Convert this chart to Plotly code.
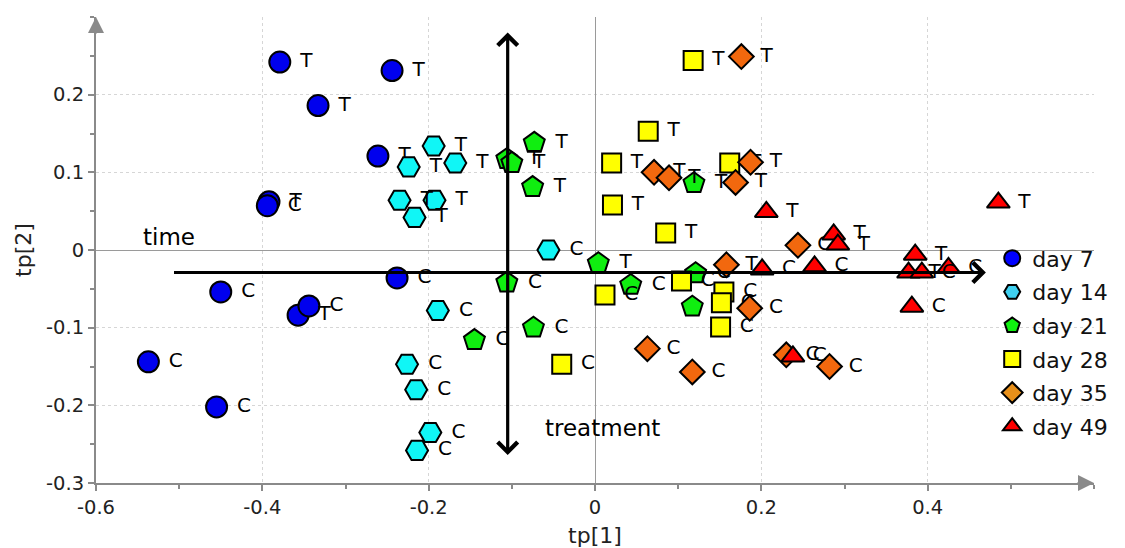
import plotly.graph_objects as go

# Score plot of tp[1] vs tp[2]; T = treatment, C = control
days = ["day 7", "day 14", "day 21", "day 28", "day 35", "day 49"]

day7_x = [-0.379, -0.244, -0.333, -0.261, -0.392, -0.357, -0.394, -0.238, -0.450, -0.344, -0.537, -0.455]
day7_y = [0.242, 0.231, 0.186, 0.121, 0.062, -0.084, 0.057, -0.036, -0.054, -0.072, -0.144, -0.202]
day7_lab = ["T", "T", "T", "T", "T", "T", "C", "C", "C", "C", "C", "C"]

day14_x = [-0.194, -0.224, -0.168, -0.235, -0.193, -0.217, -0.056, -0.189, -0.226, -0.215, -0.198, -0.214]
day14_y = [0.134, 0.107, 0.112, 0.064, 0.064, 0.042, 0.000, -0.078, -0.147, -0.180, -0.235, -0.258]
day14_lab = ["T", "T", "T", "T", "T", "T", "C", "C", "C", "C", "C", "C"]

day21_x = [-0.106, -0.100, -0.073, -0.075, 0.119, 0.004, -0.106, -0.074, -0.145, 0.043, 0.121, 0.117]
day21_y = [0.117, 0.112, 0.138, 0.081, 0.086, -0.017, -0.042, -0.100, -0.116, -0.045, -0.030, -0.073]
day21_lab = ["T", "T", "T", "T", "T", "T", "C", "C", "C", "C", "C", "C"]

day28_x = [0.118, 0.064, 0.020, 0.021, 0.085, 0.162, -0.040, 0.012, 0.104, 0.155, 0.152, 0.151]
day28_y = [0.244, 0.153, 0.112, 0.058, 0.022, 0.112, -0.147, -0.058, -0.040, -0.054, -0.068, -0.099]
day28_lab = ["T", "T", "T", "T", "T", "T", "C", "C", "C", "C", "C", "C"]

day35_x = [0.176, 0.071, 0.089, 0.169, 0.187, 0.158, 0.244, 0.063, 0.117, 0.186, 0.230, 0.282]
day35_y = [0.249, 0.100, 0.093, 0.087, 0.113, -0.019, 0.006, -0.127, -0.157, -0.075, -0.135, -0.150]
day35_lab = ["T", "T", "T", "T", "T", "T", "C", "C", "C", "C", "C", "C"]

day49_x = [0.485, 0.206, 0.287, 0.292, 0.385, 0.377, 0.393, 0.425, 0.201, 0.264, 0.381, 0.238]
day49_y = [0.061, 0.049, 0.020, 0.007, -0.006, -0.029, -0.029, -0.023, -0.025, -0.021, -0.073, -0.137]
day49_lab = ["T", "T", "T", "T", "T", "T", "C", "C", "C", "C", "C", "C"]

x_ticks = [-0.6, -0.4, -0.2, 0, 0.2, 0.4]
x_ticktext = ["-0.6", "-0.4", "-0.2", "0", "0.2", "0.4"]
y_ticks = [-0.3, -0.2, -0.1, 0, 0.1, 0.2]
y_ticktext = ["-0.3", "-0.2", "-0.1", "0", "0.1", "0.2"]

series = [
    (days[0], day7_x, day7_y, day7_lab, "circle", "#0000ee", "#0000ff", 21),
    (days[1], day14_x, day14_y, day14_lab, "hexagon2", "#10f6f6", "#3fd0f0", 22),
    (days[2], day21_x, day21_y, day21_lab, "pentagon", "#10ee10", "#10f010", 22),
    (days[3], day28_x, day28_y, day28_lab, "square", "#ffff00", "#ffff00", 19),
    (days[4], day35_x, day35_y, day35_lab, "diamond", "#f2680e", "#e8901a", 19),
    (days[5], day49_x, day49_y, day49_lab, "triangle-up", "#ff0000", "#ff0000", 20),
]

FONT = "DejaVu Sans"
GAP = "\u00a0"  # small gap between a marker and its T/C label
fig = go.Figure()

for name, xs, ys, labs, sym, col, legcol, size in series:
    fig.add_trace(go.Scatter(
        x=xs, y=ys, text=[GAP + s for s in labs], mode="markers+text",
        textposition="middle right",
        textfont=dict(family=FONT, size=20, color="#000000"),
        marker=dict(symbol=sym, size=size, color=col,
                    line=dict(color="#000000", width=2)),
        showlegend=False, cliponaxis=False, hoverinfo="x+y+text",
    ))

# legend entries
for name, xs, ys, labs, sym, col, legcol, size in series:
    fig.add_trace(go.Scatter(
        x=[None], y=[None], mode="markers", name=name, legendgroup=name,
        marker=dict(symbol=sym, size=size, color=legcol,
                    line=dict(color="#000000", width=2)),
    ))

annotations = [
    # time arrow
    dict(x=0.47, y=-0.029, ax=-0.508, ay=-0.029, xref="x", yref="y",
         axref="x", ayref="y", text="", showarrow=True, arrowhead=4,
         arrowsize=1.2, arrowwidth=3.2, arrowcolor="#000000", standoff=0),
    # treatment arrow (both ends)
    dict(x=-0.105, y=-0.264, ax=-0.105, ay=0.282, xref="x", yref="y",
         axref="x", ayref="y", text="", showarrow=True, arrowhead=4,
         startarrowhead=4, arrowside="end+start", arrowsize=1.2,
         startarrowsize=1.2, arrowwidth=3.2, arrowcolor="#000000",
         standoff=0, startstandoff=0),
    dict(x=-0.512, y=0.017, xref="x", yref="y", text="time", showarrow=False,
         font=dict(family=FONT, size=23, color="#000000")),
    dict(x=0.0095, y=-0.229, xref="x", yref="y", text="treatment", showarrow=False,
         font=dict(family=FONT, size=23, color="#000000")),
    # axis arrowheads
    dict(x=1.0, y=0, xref="paper", yref="paper", ax=-18, ay=0, text="",
         showarrow=True, arrowhead=2, arrowsize=1.6, arrowwidth=2,
         arrowcolor="#8a8a8a", standoff=0),
    dict(x=0, y=1.0, xref="paper", yref="paper", ax=0, ay=18, text="",
         showarrow=True, arrowhead=2, arrowsize=1.6, arrowwidth=2,
         arrowcolor="#8a8a8a", standoff=0),
]

fig.update_layout(
    width=1125, height=548,
    margin=dict(l=96, r=22, t=17, b=65),
    paper_bgcolor="#ffffff", plot_bgcolor="#ffffff",
    font=dict(family=FONT, size=19, color="#222222"),
    annotations=annotations,
    legend=dict(x=0.898, y=0.527, xanchor="left", yanchor="top",
                bgcolor="rgba(0,0,0,0)", font=dict(family=FONT, size=22, color="#111111"),
                tracegroupgap=2, itemwidth=30),
    showlegend=True,
)

fig.update_xaxes(
    range=[-0.6, 0.6], tickvals=x_ticks, ticktext=x_ticktext, automargin=False,
    showgrid=True, gridcolor="#d6d6d6", griddash="dot", gridwidth=1,
    zeroline=True, zerolinecolor="#9a9a9a", zerolinewidth=1,
    showline=True, linecolor="#8a8a8a", linewidth=2,
    ticks="outside", ticklen=6, tickcolor="#8a8a8a", tickwidth=1.5,
    minor=dict(dtick=0.1, tick0=0, ticks="outside", ticklen=4,
               tickcolor="#8a8a8a", showgrid=False),
    tickfont=dict(family=FONT, size=19.5, color="#222222"),
    title=dict(text="tp[1]", font=dict(family=FONT, size=22, color="#222222"), standoff=10),
)
fig.update_yaxes(
    range=[-0.3, 0.3], tickvals=y_ticks, ticktext=y_ticktext, automargin=False,
    showgrid=True, gridcolor="#d6d6d6", griddash="dot", gridwidth=1,
    zeroline=True, zerolinecolor="#9a9a9a", zerolinewidth=1,
    showline=True, linecolor="#8a8a8a", linewidth=2,
    ticks="outside", ticklen=6, tickcolor="#8a8a8a", tickwidth=1.5,
    minor=dict(dtick=0.05, tick0=0, ticks="outside", ticklen=4,
               tickcolor="#8a8a8a", showgrid=False),
    tickfont=dict(family=FONT, size=19.5, color="#222222"),
    title=dict(text="tp[2]", font=dict(family=FONT, size=22, color="#222222"), standoff=8),
)

fig.write_html("out.html")
